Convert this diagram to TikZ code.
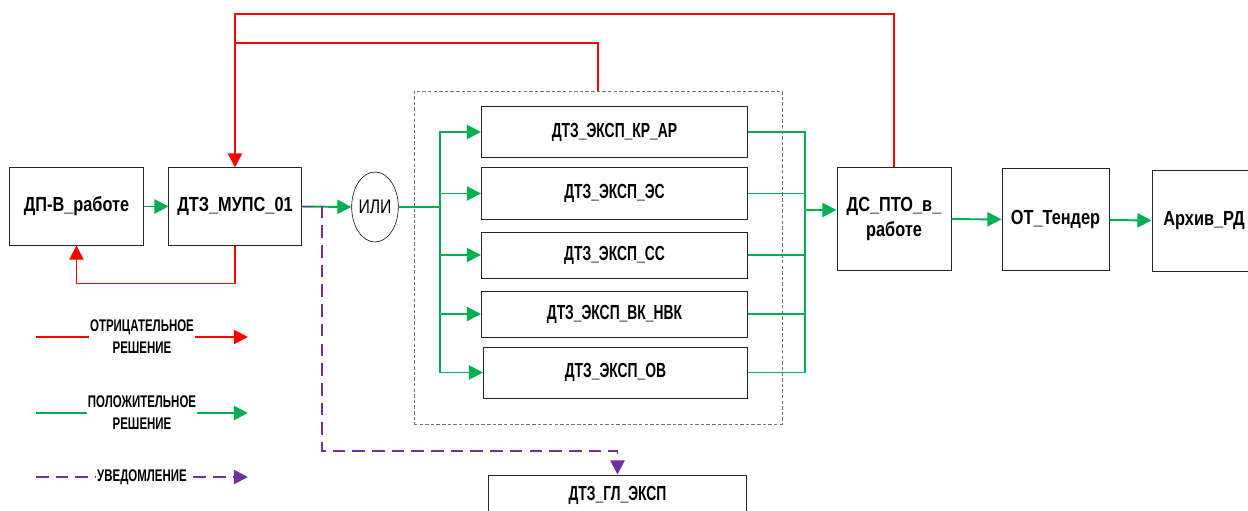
\documentclass[tikz,border=0pt]{standalone}
\usepackage{fontspec}
\setmainfont{Liberation Sans}[FakeStretch=0.8]
\newfontfamily\tightfont{Liberation Sans}[FakeStretch=0.68]
\usetikzlibrary{arrows.meta,shapes.geometric}

\definecolor{negred}{RGB}{255,0,0}
\definecolor{posgreen}{RGB}{0,176,80}
\definecolor{notepurple}{RGB}{112,48,160}

\begin{document}
\begin{tikzpicture}[x=0.025cm,y=-0.025cm,
  box/.style={draw=black!85,line width=0.7pt,fill=white,align=center,inner sep=1pt,
    font=\bfseries\fontsize{14.5}{18}\selectfont},
  expbox/.style={box,minimum width=6.65cm,font=\tightfont\bfseries\fontsize{14.5}{18}\selectfont},
  grpbox/.style={draw=black!55,line width=0.5pt,dash pattern=on 2.5pt off 1.5pt},
  posline/.style={draw=posgreen,line width=1.4pt},
  negline/.style={draw=negred,line width=1.4pt},
  posarrow/.style={posline,-{Triangle[length=10pt,width=10pt]}},
  negarrow/.style={negline,-{Triangle[length=10pt,width=10pt]}},
  notearrow/.style={draw=notepurple,line width=1.4pt,dash pattern=on 9pt off 5pt,
    -{Triangle[length=10pt,width=10pt]}},
  legtext/.style={fill=white,inner sep=1pt,align=center,
    font=\tightfont\bfseries\fontsize{12}{15.5}\selectfont}]
\useasboundingbox (0,0) rectangle (1248,511);
\clip (0,0) rectangle (1248,511);

% expertise group
\node[grpbox,minimum width=9.2cm,minimum height=8.325cm] (grp) at (598,257.5) {};

\node[box,minimum width=3.325cm,minimum height=1.925cm] (dp) at (76.5,206.5) {ДП-В\_работе};
\node[box,minimum width=3.3cm,minimum height=1.925cm] (mups) at (235,206.5) {ДТЗ\_МУПС\_01};
\node[draw,ellipse,minimum width=1.1cm,minimum height=1.75cm,inner sep=0pt,
  font=\fontsize{14}{16}\selectfont] (ili) at (375,207) {ИЛИ};

\node[expbox,minimum height=1.25cm] (kr) at (614.5,132) {ДТЗ\_ЭКСП\_КР\_АР};
\node[expbox,minimum height=1.275cm] (es) at (614.5,193.5) {ДТЗ\_ЭКСП\_ЭС};
\node[expbox,minimum height=1.15cm] (ss) at (614.5,255) {ДТЗ\_ЭКСП\_СС};
\node[expbox,minimum height=1.15cm] (vk) at (614.5,314) {ДТЗ\_ЭКСП\_ВК\_НВК};
\node[expbox,minimum width=6.6cm,minimum height=1.275cm] (ov) at (615.5,372.5) {ДТЗ\_ЭКСП\_ОВ};

\node[box,minimum width=2.85cm,minimum height=2.55cm] (dspto) at (894,219) {ДС\_ПТО\_в\_\\работе};
\node[box,minimum width=2.675cm,minimum height=2.525cm] (ot) at (1055.5,219.5) {ОТ\_Тендер};
\node[box,minimum width=2.6cm,minimum height=2.5cm] (arh) at (1204,221) {Архив\_РД};
\node[expbox,minimum width=6.425cm,minimum height=1cm] (gl) at (617.5,495) {ДТЗ\_ГЛ\_ЭКСП};

\coordinate (fo) at (440,207);
\coordinate (fi) at (805,210);
\coordinate (tl) at (235,14);
\coordinate (ml) at (235,43);
\coordinate (nb) at (322,451);

% positive flow
\draw[posarrow] (dp) -- (mups);
\draw[posarrow] (mups.east) -- (ili.west);
\draw[posline] (ili.east) -- (fo);
\draw[posarrow] (fo) |- (kr.west);
\draw[posarrow] (fo) |- (es.west);
\draw[posarrow] (fo) |- (ss.west);
\draw[posarrow] (fo) |- (vk.west);
\draw[posarrow] (fo) |- (ov.west);
\draw[posline] (kr.east) -| (fi);
\draw[posline] (es.east) -| (fi);
\draw[posline] (ss.east) -| (fi);
\draw[posline] (vk.east) -| (fi);
\draw[posline] (ov.east) -| (fi);
\draw[posarrow] (fi) -- (dspto.west |- fi);
\draw[posarrow] (dspto) -- (ot);
\draw[posarrow] (ot) -- (arh);

% negative flow
\draw[negarrow] (mups.south) -- ++(0,38) -| (dp.south);
\draw[negarrow] (dspto.north) |- (tl) -- (mups.north);
\draw[negline] (grp.north) |- (ml);

% notice
\draw[notearrow] (mups.east) -| (nb) -| (gl.north);

% legend
\coordinate (la) at (36,337);
\coordinate (lb) at (248,337);
\coordinate (lc) at (36,413);
\coordinate (ld) at (248,413);
\coordinate (le) at (36,477);
\coordinate (lf) at (248,477);
\draw[negarrow] (la) -- node[legtext] {ОТРИЦАТЕЛЬНОЕ\\РЕШЕНИЕ} (lb);
\draw[posarrow] (lc) -- node[legtext] {ПОЛОЖИТЕЛЬНОЕ\\РЕШЕНИЕ} (ld);
\draw[notearrow] (le) -- node[legtext] {УВЕДОМЛЕНИЕ} (lf);
\end{tikzpicture}
\end{document}
